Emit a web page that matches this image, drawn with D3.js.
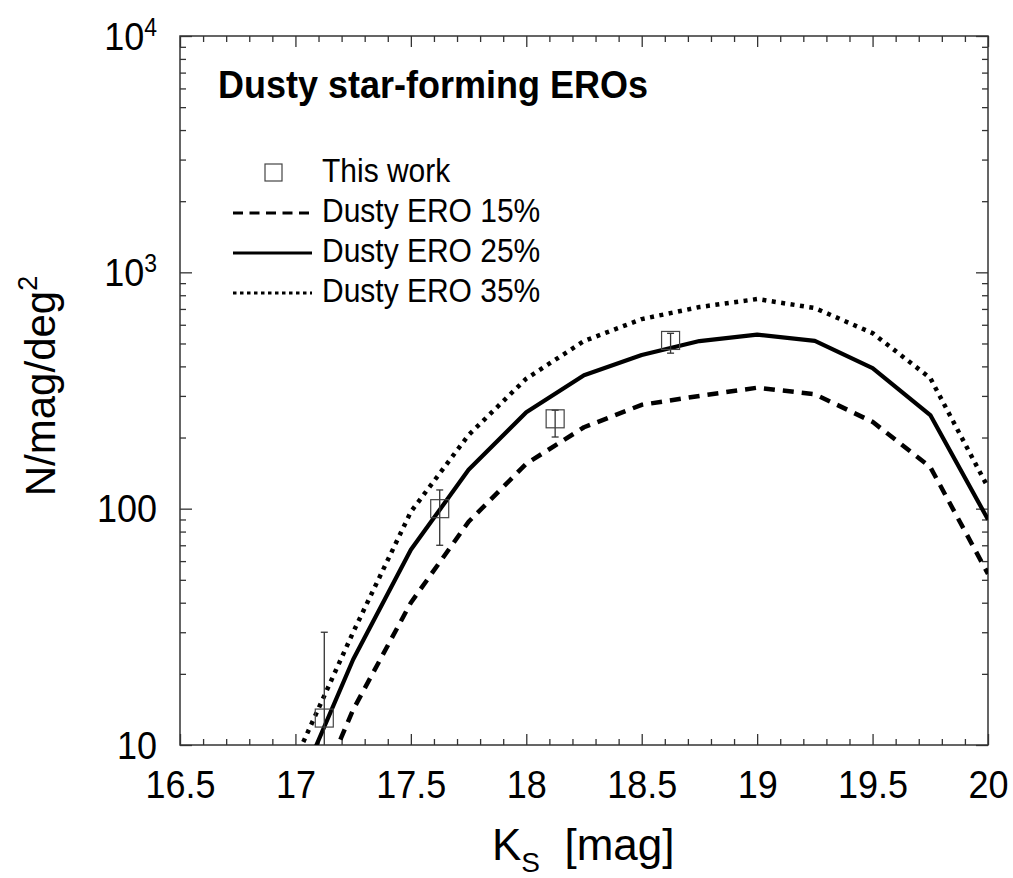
<!DOCTYPE html>
<html>
<head>
<meta charset="utf-8">
<script src="https://cdn.jsdelivr.net/npm/d3@7"></script>
<style>
  body { margin: 0; background: #fff; }
  svg { font-family: "Liberation Sans", Arial, Helvetica, sans-serif; }
</style>
</head>
<body>
<svg id="chart" width="1013" height="878"></svg>
<script>
// K_s grid of the model curves (mag)
const ksGrid = [17.0, 17.25, 17.5, 17.75, 18.0, 18.25, 18.5, 18.75, 19.0, 19.25, 19.5, 19.75, 20.0];
// model counts, N/mag/deg^2
const dusty15 = [3.8, 14.1, 40, 88, 155, 221, 275, 300, 325, 305, 233, 150, 53];
const dusty25 = [6.2, 23, 67, 146, 256, 367, 447, 512, 545, 513, 393, 249, 90];
const dusty35 = [8.7, 30, 97, 205, 355, 512, 634, 713, 771, 706, 553, 357, 123];

// observed points ("This work")
const obsKs = [17.125, 17.625, 18.125, 18.625];
const obsN  = [13, 100, 240, 515];
const obsLo = [1, 70, 201, 455];
const obsHi = [30, 120, 261, 552];

const xTickValues = [16.5, 17, 17.5, 18, 18.5, 19, 19.5, 20];
const yTickValues = [10, 100, 1000, 10000];
const yTickBase = ['10', '100', '10', '10'];
const yTickExp  = ['', '', '3', '4'];

const legendLabels = ['This work', 'Dusty ERO 15%', 'Dusty ERO 25%', 'Dusty ERO 35%'];

const svg = d3.select('#chart');
const mLeft = 180, mRight = 988, mTop = 36, mBottom = 745;
const stretchY = 1.1; // the reference type is a little taller than Liberation Sans

const x = d3.scaleLinear().domain([16.5, 20]).range([mLeft, mRight]);
const y = d3.scaleLog().domain([10, 1e4]).range([mBottom, mTop]);

// move x/y into a transform so the glyphs can be stretched vertically
const stretch = sel => sel.each(function() {
  const t = d3.select(this);
  const tx = +t.attr('x') || 0, ty = +t.attr('y') || 0;
  t.attr('x', null).attr('y', null)
    .attr('transform', `translate(${tx},${ty}) scale(1,${stretchY})`);
});

// minor ticks
const xMinor = d3.range(16.5, 20.0001, 0.1).filter(v => !xTickValues.some(t => Math.abs(t - v) < 1e-6));
const yMinor = [];
[10, 100, 1000].forEach(d => { for (let k = 2; k <= 9; k++) yMinor.push(d * k); });

svg.append('defs').append('clipPath').attr('id', 'plot')
  .append('rect').attr('x', mLeft).attr('y', mTop).attr('width', mRight - mLeft).attr('height', mBottom - mTop);

const axisColor = '#333';

const styleAxis = g => {
  g.select('.domain').remove();
  g.selectAll('line').attr('stroke', axisColor).attr('stroke-width', 1.3);
};

// bottom
svg.append('g').attr('transform', `translate(0,${mBottom})`)
  .call(d3.axisBottom(x).tickValues(xTickValues).tickSize(-11).tickPadding(25).tickSizeOuter(0)
    .tickFormat(d => d3.format('~g')(d)))
  .call(styleAxis)
  .call(g => g.selectAll('text').attr('font-size', 36).attr('fill', '#000').attr('font-family', null).call(stretch));
svg.append('g').attr('transform', `translate(0,${mBottom})`)
  .call(d3.axisBottom(x).tickValues(xMinor).tickSize(-6).tickFormat('').tickSizeOuter(0))
  .call(styleAxis);
// top
svg.append('g').attr('transform', `translate(0,${mTop})`)
  .call(d3.axisTop(x).tickValues(xTickValues).tickSize(-11).tickFormat('').tickSizeOuter(0))
  .call(styleAxis);
svg.append('g').attr('transform', `translate(0,${mTop})`)
  .call(d3.axisTop(x).tickValues(xMinor).tickSize(-6).tickFormat('').tickSizeOuter(0))
  .call(styleAxis);

// left
const gLeft = svg.append('g').attr('transform', `translate(${mLeft},0)`)
  .call(d3.axisLeft(y).tickValues(yTickValues).tickSize(-12).tickFormat('').tickSizeOuter(0))
  .call(styleAxis);
gLeft.selectAll('.tick').each(function(d, i) {
  const t = d3.select(this).select('text')
    .attr('x', -23).attr('dy', '0.33em').attr('font-size', 36).attr('fill', '#000')
    .attr('text-anchor', 'end').attr('font-family', null);
  t.append('tspan').text(yTickBase[i]);
  if (yTickExp[i]) t.append('tspan').attr('dy', '-0.55em').attr('font-size', 23).text(yTickExp[i]);
  t.call(stretch);
});
svg.append('g').attr('transform', `translate(${mLeft},0)`)
  .call(d3.axisLeft(y).tickValues(yMinor).tickSize(-6).tickFormat('').tickSizeOuter(0))
  .call(styleAxis);
// right
svg.append('g').attr('transform', `translate(${mRight},0)`)
  .call(d3.axisRight(y).tickValues(yTickValues).tickSize(-12).tickFormat('').tickSizeOuter(0))
  .call(styleAxis);
svg.append('g').attr('transform', `translate(${mRight},0)`)
  .call(d3.axisRight(y).tickValues(yMinor).tickSize(-6).tickFormat('').tickSizeOuter(0))
  .call(styleAxis);

// frame
svg.append('rect').attr('x', mLeft).attr('y', mTop).attr('width', mRight - mLeft).attr('height', mBottom - mTop)
  .attr('fill', 'none').attr('stroke', axisColor).attr('stroke-width', 1.5);

// model curves
const line = d3.line().x((d, i) => x(ksGrid[i])).y(d => y(d));
const curves = [
  { values: dusty15, dash: '11,8', width: 4.5 },
  { values: dusty25, dash: null, width: 4.2 },
  { values: dusty35, dash: '4,5.5', width: 4.5 }
];
const plot = svg.append('g').attr('clip-path', 'url(#plot)');
curves.forEach(c => {
  plot.append('path').datum(c.values)
    .attr('d', line)
    .attr('fill', 'none').attr('stroke', '#000')
    .attr('stroke-width', c.width)
    .attr('stroke-linejoin', 'round')
    .attr('stroke-dasharray', c.dash);
});

// observed points with error bars
const obs = obsKs.map((k, i) => ({ k, n: obsN[i], lo: obsLo[i], hi: obsHi[i] }));
const pts = plot.selectAll('g.obs').data(obs).join('g').attr('class', 'obs');
pts.append('line')
  .attr('x1', d => x(d.k)).attr('x2', d => x(d.k))
  .attr('y1', d => y(d.lo)).attr('y2', d => y(d.hi))
  .attr('stroke', '#333').attr('stroke-width', 1.3);
pts.append('line')
  .attr('x1', d => x(d.k) - 3.5).attr('x2', d => x(d.k) + 3.5)
  .attr('y1', d => y(d.hi)).attr('y2', d => y(d.hi))
  .attr('stroke', '#333').attr('stroke-width', 1.3);
pts.append('line')
  .attr('x1', d => x(d.k) - 3.5).attr('x2', d => x(d.k) + 3.5)
  .attr('y1', d => y(d.lo)).attr('y2', d => y(d.lo))
  .attr('stroke', '#333').attr('stroke-width', 1.3);
pts.append('rect')
  .attr('x', d => x(d.k) - 9).attr('y', d => y(d.n) - 9)
  .attr('width', 18).attr('height', 18)
  .attr('fill', 'none').attr('stroke', '#444').attr('stroke-width', 1.2);

// title
svg.append('text').attr('x', 218).attr('y', 98)
  .attr('font-size', 36).attr('font-weight', 'bold').text('Dusty star-forming EROs')
  .call(stretch);

// legend
const lg = svg.append('g');
lg.append('rect').attr('x', 265).attr('y', 164).attr('width', 17).attr('height', 17)
  .attr('fill', 'none').attr('stroke', '#444').attr('stroke-width', 1.2);
lg.append('text').attr('x', 322).attr('y', 182).attr('font-size', 30).text(legendLabels[0]).call(stretch);
curves.forEach((c, i) => {
  const yy = 213 + i * 40;
  lg.append('line').attr('x1', 233).attr('x2', 312).attr('y1', yy).attr('y2', yy)
    .attr('stroke', '#000').attr('stroke-width', 3.2)
    .attr('stroke-dasharray', i === 0 ? '10,6.5' : (i === 2 ? '3.5,3.5' : null));
  lg.append('text').attr('x', 322).attr('y', yy + 9).attr('font-size', 30).text(legendLabels[i + 1]).call(stretch);
});

// axis titles
const xl = svg.append('text').attr('x', 492).attr('y', 860).attr('font-size', 44);
xl.append('tspan').text('K');
xl.append('tspan').attr('font-size', 28).attr('dy', 12).text('S');
xl.append('tspan').attr('dy', -12).text('\u00a0 [mag]');

const yl = svg.append('text').attr('transform', 'translate(55,386) rotate(-90)')
  .attr('text-anchor', 'middle').attr('font-size', 42);
yl.append('tspan').text('N/mag/deg');
yl.append('tspan').attr('font-size', 27).attr('dy', -18).text('2');
</script>
</body>
</html>
